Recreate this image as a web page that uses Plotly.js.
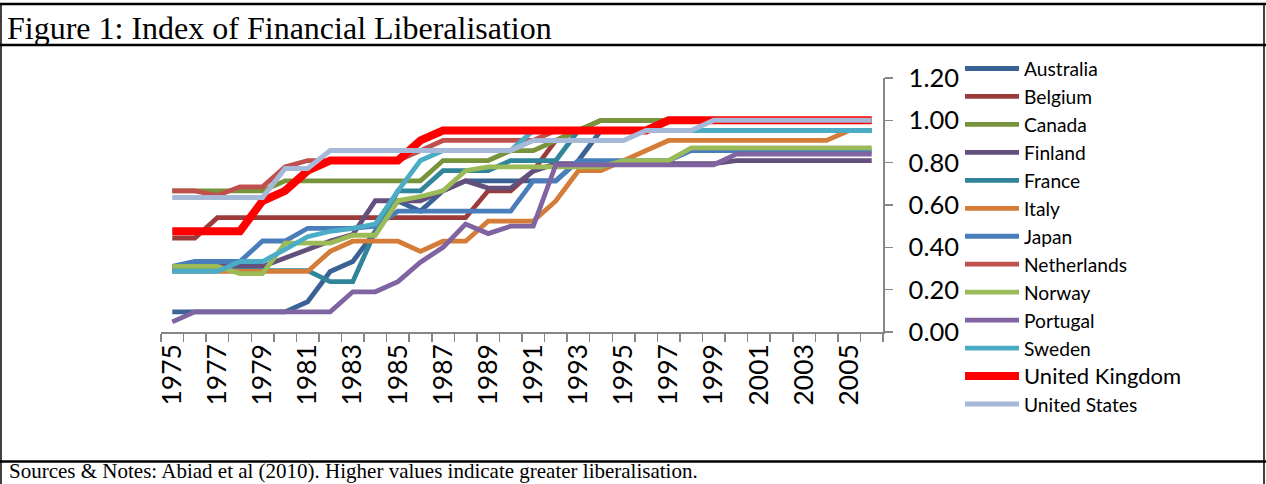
<!DOCTYPE html>
<html><head><meta charset="utf-8">
<script src="https://cdn.plot.ly/plotly-3.0.1.min.js"></script>
<style>html,body{margin:0;padding:0;background:#fff;}#chart{width:1266px;height:484px;}</style>
</head><body><div id="chart"></div>
<script>
const years = [1975,1976,1977,1978,1979,1980,1981,1982,1983,1984,1985,1986,1987,1988,1989,1990,
               1991,1992,1993,1994,1995,1996,1997,1998,1999,2000,2001,2002,2003,2004,2005,2006];
const tickYears = [1975,1977,1979,1981,1983,1985,1987,1989,1991,1993,1995,1997,1999,2001,2003,2005];
const yTicks = [0,0.2,0.4,0.6,0.8,1.0,1.2];

const australia   = [.095,.095,.095,.095,.095,.095,.143,.286,.333,.476,.619,.571,.667,.714,.714,.714,.714,.714,.81,.952,.952,.952,.952,.952,.952,.952,.952,.952,.952,.952,.952,.952];
const belgium     = [.444,.444,.54,.54,.54,.54,.54,.54,.54,.54,.54,.54,.54,.54,.667,.667,.762,.905,.952,1,1,1,1,1,1,1,1,1,1,1,1,1];
const canada      = [.667,.667,.667,.667,.667,.714,.714,.714,.714,.714,.714,.714,.81,.81,.81,.857,.857,.905,.952,1,1,1,1,1,1,1,1,1,1,1,1,1];
const finland     = [.31,.31,.31,.31,.31,.35,.39,.43,.46,.62,.62,.62,.667,.714,.68,.68,.76,.795,.795,.795,.795,.795,.795,.795,.795,.81,.81,.81,.81,.81,.81,.81];
const france      = [.29,.29,.29,.29,.29,.29,.29,.238,.238,.476,.667,.667,.762,.762,.762,.81,.81,.81,.952,.952,.952,.952,.952,.952,.952,.952,.952,.952,.952,.952,.952,.952];
const italy       = [.286,.286,.286,.286,.286,.286,.286,.381,.429,.429,.429,.381,.429,.429,.524,.524,.524,.619,.762,.762,.81,.857,.905,.905,.905,.905,.905,.905,.905,.905,.952,.952];
const japan       = [.31,.333,.333,.333,.43,.43,.49,.49,.49,.50,.571,.571,.571,.571,.571,.571,.714,.714,.81,.81,.81,.81,.81,.857,.857,.857,.857,.857,.857,.857,.857,.857];
const netherlands = [.667,.667,.645,.686,.686,.78,.81,.81,.81,.81,.81,.857,.905,.905,.905,.905,.905,.952,.952,.952,.952,.952,1,1,1,1,1,1,1,1,1,1];
const norway      = [.31,.31,.31,.276,.276,.42,.42,.42,.457,.457,.62,.64,.667,.762,.78,.78,.78,.78,.78,.78,.81,.81,.81,.87,.87,.87,.87,.87,.87,.87,.87,.87];
const portugal    = [.048,.095,.095,.095,.095,.095,.095,.095,.19,.19,.238,.33,.40,.51,.465,.50,.50,.79,.79,.79,.79,.79,.79,.79,.79,.84,.84,.84,.84,.84,.84,.84];
const sweden      = [.286,.286,.286,.333,.333,.39,.45,.476,.49,.51,.667,.81,.857,.857,.857,.857,.952,.952,.952,.952,.952,.952,.952,.952,.952,.952,.952,.952,.952,.952,.952,.952];
const uk          = [.476,.476,.476,.476,.619,.667,.762,.81,.81,.81,.81,.905,.952,.952,.952,.952,.952,.952,.952,.952,.952,.952,1,1,1,1,1,1,1,1,1,1];
const us          = [.635,.635,.635,.635,.635,.773,.773,.857,.857,.857,.857,.857,.857,.857,.857,.857,.905,.905,.905,.905,.905,.952,.952,.952,1,1,1,1,1,1,1,1];

const countries = ['Australia','Belgium','Canada','Finland','France','Italy','Japan','Netherlands','Norway','Portugal','Sweden','United Kingdom','United States'];
const seriesData = [australia,belgium,canada,finland,france,italy,japan,netherlands,norway,portugal,sweden,uk,us];
const colors = ['#3A6294','#9B3C3A','#77933C','#64507D','#31859B','#D47C38','#4A7EBB','#C0504D','#9BBB59','#8064A2','#4BACC6','#FF0000','#A7B9D9'];
const widths = [4.8,4.8,4.8,4.8,4.8,4.8,4.8,4.8,4.8,4.8,4.8,8,5];

const traces = countries.map((c,i)=>({
  type:'scatter', mode:'lines', x:years, y:seriesData[i],
  name: c==='United Kingdom' ? '<span style="font-size:22px">United Kingdom</span>' : c,
  line:{color:colors[i], width:widths[i]}
}));

const W=1266, H=484, L=161, R=883, T=78, B=332;
const px2x = p => (p-L)/(R-L);
const px2y = p => (B-p)/(B-T);
const boundaries = years.map(y=>y-0.5).concat([years[years.length-1]+0.5]);

const lineStyle = {color:'#000', width:2.5};
const shapes = [
  {type:'line', xref:'paper', yref:'paper', x0:px2x(0), x1:px2x(W), y0:px2y(4), y1:px2y(4), line:lineStyle},
  {type:'line', xref:'paper', yref:'paper', x0:px2x(0), x1:px2x(W), y0:px2y(45), y1:px2y(45), line:lineStyle},
  {type:'line', xref:'paper', yref:'paper', x0:px2x(0), x1:px2x(W), y0:px2y(461.5), y1:px2y(461.5), line:lineStyle},
  {type:'line', xref:'paper', yref:'paper', x0:px2x(1), x1:px2x(1), y0:px2y(4), y1:px2y(H), line:{color:'#000', width:1.5}},
  {type:'line', xref:'paper', yref:'paper', x0:px2x(1264), x1:px2x(1264), y0:px2y(4), y1:px2y(H), line:{color:'#000', width:1.5}}
];

const layout = {
  width:W, height:H,
  margin:{l:L, r:W-R, t:T, b:H-B, pad:0},
  paper_bgcolor:'#fff', plot_bgcolor:'#fff',
  showlegend:true,
  title:{text:'Figure 1: Index of Financial Liberalisation', font:{family:'Liberation Serif', size:32, color:'#000'},
         x:7/W, xanchor:'left', xref:'container', y:1-28/H, yanchor:'middle', yref:'container'},
  xaxis:{range:[boundaries[0], boundaries[boundaries.length-1]], tickmode:'array', tickvals:tickYears, ticktext:tickYears.map(String),
         tickangle:-90, ticks:'', showline:true, linecolor:'#878787', linewidth:1.5, showgrid:false, zeroline:false,
         tickfont:{family:'Lato', size:26.5, color:'#000'},
         minor:{tickmode:'array', tickvals:boundaries, ticks:'outside', ticklen:8, tickcolor:'#878787', tickwidth:1.5, showgrid:false}},
  yaxis:{side:'right', range:[0,1.2], tickmode:'array', tickvals:yTicks, ticktext:yTicks.map(v=>v.toFixed(2)),
         ticks:'outside', ticklen:8, tickcolor:'#878787', tickwidth:1.5, showline:true, linecolor:'#878787', linewidth:1.5,
         showgrid:false, zeroline:false, tickfont:{family:'Lato', size:25.5, color:'#000'}, ticklabelstandoff:11},
  legend:{x:px2x(960), y:px2y(49.5), xanchor:'left', yanchor:'top', font:{family:'Lato', size:19.2, color:'#000'},
          bgcolor:'rgba(0,0,0,0)', borderwidth:0, itemwidth:54, maxheight:470},
  annotations:[{text:'Sources &amp; Notes: Abiad et al (2010). Higher values indicate greater liberalisation.',
    xref:'paper', yref:'paper', x:px2x(7), y:px2y(471), xanchor:'left', yanchor:'middle', showarrow:false,
    font:{family:'Liberation Serif', size:21, color:'#000'}}],
  shapes:shapes
};

Plotly.newPlot('chart', traces, layout, {displayModeBar:false, staticPlot:true});
</script></body></html>
